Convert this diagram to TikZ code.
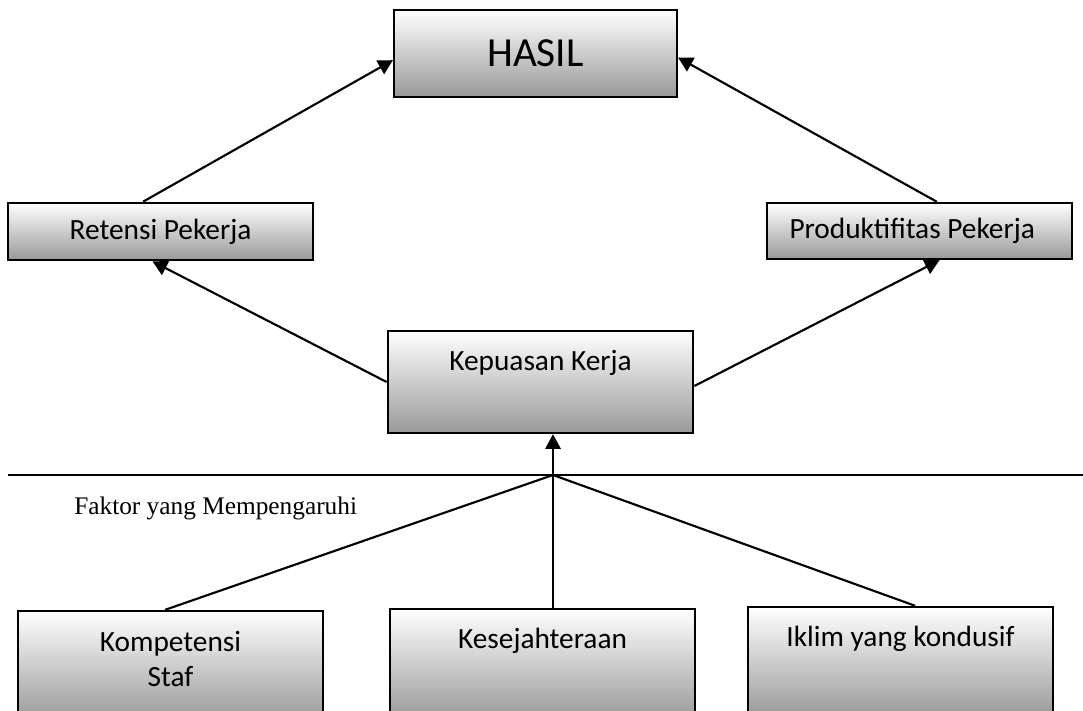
\documentclass[tikz,border=0pt]{standalone}
\usepackage{fontspec}
\setmainfont{Carlito}
\newfontfamily\timesfont{Liberation Serif}
\usetikzlibrary{arrows.meta}

\begin{document}
\begin{tikzpicture}[>={Triangle[length=11pt,width=11.5pt]}, x=0.75pt, y=-0.75pt,
	kotak/.style={draw, line width=1.8pt, top color=white, bottom color=black!40, minimum width=229pt, inner sep=0pt, font=\fontsize{22}{26}\selectfont, align=center},
	panah/.style={->, line width=1.6pt},
	garis/.style={line width=1.6pt}]
		\useasboundingbox (0,0) rectangle (1083,711);
		\clip (0,0) rectangle (1083,711);
		%atas
		\node [kotak, minimum width=212pt, minimum height=65pt, font=\fontsize{31}{36}\selectfont] (hasil) at (535.5,53.5) {HASIL};
		\node [kotak, minimum height=43pt] (retensi) at (160.5,231.5) {Retensi Pekerja};
		\node [kotak, minimum height=42pt] (produktif) at (919.5,231) {Produktifitas Pekerja\hspace*{11pt}};
		\draw [panah] ([xshift=-13pt]retensi.north) -- ([yshift=-5pt]hasil.west);
		\draw [panah] ([xshift=13pt]produktif.north) -- ([yshift=-3pt]hasil.east);
		%tengah
		\node [kotak, minimum height=76.5pt, text depth=32pt] (kepuasan) at (540.5,382) {Kepuasan Kerja};
		\draw [panah] (kepuasan.west) -- ([xshift=-6pt]retensi.south);
		\draw [panah] ([yshift=-3pt]kepuasan.east) -- ([xshift=15pt]produktif.south);
		%garis pemisah
		\draw [garis] (8,475) -- (1083,475);
		\node [font=\timesfont\fontsize{19}{23}\selectfont, anchor=base west, inner sep=0pt] (faktor) at (74,514) {Faktor yang Mempengaruhi};
		%bawah
		\node [kotak, minimum height=82.5pt] (kompetensi) at (170.5,666) {Kompetensi\\Staf\rule[-10.8pt]{0pt}{10.8pt}};
		\node [kotak, minimum height=82.5pt, text depth=38pt] (sejahtera) at (542.5,664) {Kesejahteraan};
		\node [kotak, minimum height=82.5pt, text depth=38pt] (iklim) at (900.5,662) {Iklim yang kondusif};
		\coordinate (simpul) at (553,475);
		\draw [panah] (simpul) -- (simpul |- kepuasan.south);
		\draw [garis] ([xshift=-4pt]kompetensi.north) -- (simpul);
		\draw [garis] (sejahtera.north -| simpul) -- (simpul);
		\draw [garis] ([xshift=11pt]iklim.north) -- (simpul);
	\end{tikzpicture}
\end{document}
